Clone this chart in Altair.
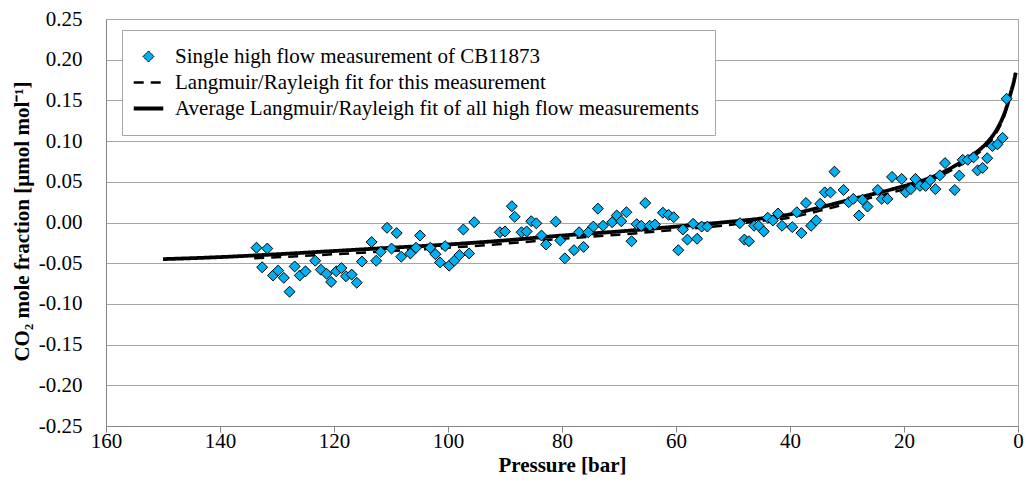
import altair as alt
import pandas as pd

S1 = "Single high flow measurement of CB11873"
S2 = "Langmuir/Rayleigh fit for this measurement"
S3 = "Average Langmuir/Rayleigh fit of all high flow measurements"
series_names = [S1, S2, S3]

meas_p = [133.6, 131.7, 132.6, 130.7, 129.8, 128.8, 127.8, 126.9, 126.0, 125.0,
          123.3, 122.3, 121.3, 120.5, 119.6, 118.7, 117.9, 116.9, 116.0, 115.1,
          113.4, 112.6, 111.8, 110.7, 109.0, 109.9, 108.2, 106.6, 105.6, 104.9,
          103.1, 102.2, 101.4, 100.5, 99.8, 98.9, 98.0, 96.3, 97.3, 95.4,
          90.9, 90.0, 88.8, 88.3, 87.1, 86.2, 85.4, 84.5, 83.6, 82.8,
          81.1, 80.3, 79.5, 77.9, 77.0, 76.2, 75.4, 74.5, 73.7, 72.8,
          71.2, 70.4, 69.6, 68.7, 67.8, 66.9, 66.1, 65.4, 64.6, 63.7,
          62.3, 61.3, 60.4, 59.6, 58.8, 58.0, 57.0, 56.3, 55.5, 54.5,
          48.8, 48.0, 47.2, 46.3, 45.5, 44.6, 43.9, 43.0, 42.1, 41.4,
          39.6, 38.8, 38.0, 37.2, 36.3, 35.4, 34.7, 33.9, 32.9, 32.2,
          30.6, 29.7, 28.9, 27.9, 27.3, 26.4, 24.6, 23.9, 22.9, 22.1,
          20.4, 19.7, 18.8, 18.0, 17.2, 16.2, 15.4, 14.5, 13.7, 12.8,
          11.1, 10.3, 9.7, 8.8, 7.8, 7.1, 6.2, 5.4, 4.5, 3.6,
          2.7, 2.0]
meas_v = [-0.031, -0.032, -0.055, -0.065, -0.059, -0.068, -0.085, -0.054, -0.065, -0.060,
          -0.047, -0.058, -0.063, -0.073, -0.060, -0.056, -0.066, -0.064, -0.074, -0.048,
          -0.024, -0.047, -0.036, -0.0065, -0.013, -0.032, -0.042, -0.038, -0.031, -0.016,
          -0.031, -0.039, -0.049, -0.029, -0.053, -0.047, -0.040, -0.038, -0.0086, 0.0004,
          -0.012, -0.011, 0.020, 0.007, -0.012, -0.011, 0.0016, -0.001, -0.016, -0.027,
          0.001, -0.022, -0.044, -0.034, -0.012, -0.030, -0.012, -0.005, 0.017, -0.004,
          0.0004, 0.0086, 0.0016, 0.0126, -0.023, -0.002, -0.004, 0.024, -0.004, -0.0025,
          0.012, 0.0094, 0.0065, -0.034, -0.0086, -0.021, -0.0016, -0.020, -0.005, -0.005,
          -0.0008, -0.021, -0.023, -0.004, -0.004, -0.011, 0.0058, 0.0025, 0.011, -0.004,
          -0.0057, 0.0126, -0.013, 0.024, -0.004, 0.0025, 0.023, 0.037, 0.037, 0.0625,
          0.040, 0.025, 0.029, 0.0086, 0.028, 0.0196, 0.040, 0.029, 0.029, 0.056,
          0.0535, 0.037, 0.041, 0.0535, 0.045, 0.045, 0.052, 0.041, 0.058, 0.073,
          0.040, 0.0576, 0.077, 0.077, 0.080, 0.064, 0.067, 0.079, 0.094, 0.096,
          0.104, 0.152]

fit_p = [134, 120, 110, 100, 90, 80, 70, 60, 52, 45, 40, 35, 30, 26, 22, 18, 15, 12, 10, 8, 6, 4.5, 3.5, 2.5, 2.0]
fit_v = [-0.044, -0.039, -0.035, -0.031, -0.026, -0.020, -0.015, -0.009, -0.004, 0.002, 0.006,
         0.014, 0.023, 0.030, 0.037, 0.045, 0.053, 0.063, 0.071, 0.080, 0.091, 0.103, 0.114, 0.129, 0.140]

avg_p = [150, 140, 130, 120, 110, 100, 90, 80, 70, 60, 52, 45, 40, 35, 30, 26, 22, 18, 15, 12,
         10, 8, 6, 4.5, 3.5, 2.5, 1.8, 1.2, 0.7, 0.4]
avg_v = [-0.045, -0.0425, -0.039, -0.035, -0.031, -0.027, -0.022, -0.016, -0.011, -0.005,
         0.000, 0.005, 0.010, 0.018, 0.027, 0.034, 0.041, 0.049, 0.056, 0.066,
         0.074, 0.083, 0.094, 0.106, 0.117, 0.132, 0.146, 0.161, 0.174, 0.184]

x_ticks = [160, 140, 120, 100, 80, 60, 40, 20, 0]
y_ticks = [-0.25, -0.20, -0.15, -0.10, -0.05, 0.0, 0.05, 0.10, 0.15, 0.20, 0.25]

pts = pd.DataFrame({"p": meas_p, "v": meas_v, "series": S1})
lines = pd.concat([
    pd.DataFrame({"p": fit_p, "v": fit_v, "series": S2}),
    pd.DataFrame({"p": avg_p, "v": avg_v, "series": S3}),
], ignore_index=True)

FONT = "Liberation Serif"
GRID = "#a6a6a6"
AXIS = "#868686"
LINE_PATH = "M-2.7,0H2.7"
FS = 21

legend = alt.Legend(
    title=None, orient="none", legendX=16, legendY=11,
    fillColor="white", strokeColor=GRID, padding=16,
    labelFont=FONT, labelFontSize=FS, labelColor="black", labelLimit=0,
    rowPadding=4, symbolOpacity=1, symbolSize=120, labelOffset=16,
)

x = alt.X("p:Q", scale=alt.Scale(domain=[160, 0], nice=False),
          axis=alt.Axis(values=x_ticks, title="Pressure [bar]", grid=False,
                        domainColor=AXIS, tickColor=AXIS, tickSize=6,
                        labelPadding=-2, labelFlush=False, labelOverlap=False,
                        titlePadding=3))
y = alt.Y("v:Q", scale=alt.Scale(domain=[-0.25, 0.25], nice=False),
          axis=alt.Axis(values=y_ticks,
                        labelExpr="replace(format(datum.value, '.2f'), '\u2212', '-')",
                        title="CO₂ mole fraction [µmol mol⁻¹]",
                        grid=True, gridColor=GRID, domainColor=AXIS,
                        ticks=False, tickSize=0, labelPadding=24,
                        labelFlush=False, labelOverlap=False,
                        titleX=-84, titleY=202,
                        titleAngle=270, titleAlign="center", titleBaseline="middle"))

dom = series_names
fill = alt.Fill("series:N", scale=alt.Scale(domain=dom, range=["#00B0F0", "transparent", "transparent"]), legend=legend)
stroke = alt.Stroke("series:N", scale=alt.Scale(domain=dom, range=["black", "black", "black"]), legend=legend)
shape = alt.Shape("series:N", scale=alt.Scale(domain=dom, range=["diamond", LINE_PATH, LINE_PATH]), legend=legend)
dash = alt.StrokeDash("series:N", scale=alt.Scale(domain=dom, range=[[1, 0], [10, 7], [1, 0]]), legend=legend)
sw = alt.StrokeWidth("series:N", scale=alt.Scale(type="ordinal", domain=dom, range=[1, 2.5, 3.8]), legend=legend)

line_layer = alt.Chart(lines).mark_line(interpolate="monotone").encode(
    x=x, y=y, stroke=stroke, strokeDash=dash, strokeWidth=sw
)
point_layer = alt.Chart(pts).mark_point(filled=True, opacity=1, size=120).encode(
    x=x, y=y, fill=fill, stroke=stroke, shape=shape, strokeWidth=sw
)

chart = alt.layer(line_layer, point_layer).properties(
    width=912, height=407,
    padding={"left": 98, "top": 11, "right": 6, "bottom": 54},
    autosize=alt.AutoSizeParams(type="none"),
).configure(
    background="white", font=FONT
).configure_view(
    stroke=GRID, strokeWidth=1
).configure_axis(
    labelFont=FONT, labelFontSize=FS, labelColor="black",
    titleFont=FONT, titleFontSize=FS, titleFontWeight="bold", titleColor="black",
).configure_legend(
    labelFont=FONT, labelFontSize=FS
)

chart.save("out.html", embed_options={"renderer": "svg", "actions": False})
